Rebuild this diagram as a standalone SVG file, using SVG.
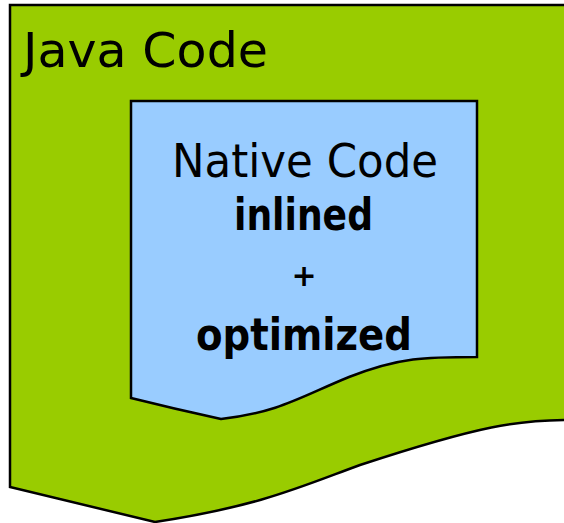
<svg xmlns="http://www.w3.org/2000/svg" width="564" height="523" viewBox="0 0 564 523">
<style>
.shape{stroke:#000;stroke-width:2.5;stroke-linejoin:miter}
.t{font-family:"DejaVu Sans","Liberation Sans",sans-serif;fill:#000}
.b{font-weight:bold}
</style>
<rect width="564" height="523" fill="#fff"/>
<g id="java-code">
<path class="shape" fill="#99cc00" d="M10,5 H568 V420 C519,420 482,425 360,465 C300,487 260,506 155,522 Q90,506 10,487 Z"/>
<text class="t" x="23" y="67" font-size="48" textLength="245" lengthAdjust="spacingAndGlyphs">Java Code</text>
</g>
<g id="native-code">
<path class="shape" fill="#99ccff" d="M131,101 H477 V357 C426,357 400,357 349,377 C300,397 280,412 221,419 Q175,409 131,398 Z"/>
<text class="t" x="172" y="177" font-size="46" textLength="266" lengthAdjust="spacingAndGlyphs">Native Code</text>
<text class="t b" x="234" y="230" font-size="44" textLength="139" lengthAdjust="spacingAndGlyphs">inlined</text>
<text class="t b" x="304" y="286" font-size="30" text-anchor="middle">+</text>
<text class="t b" x="196" y="350" font-size="44" textLength="216" lengthAdjust="spacingAndGlyphs">optimized</text>
</g>
<g id="connectors"/>
</svg>
